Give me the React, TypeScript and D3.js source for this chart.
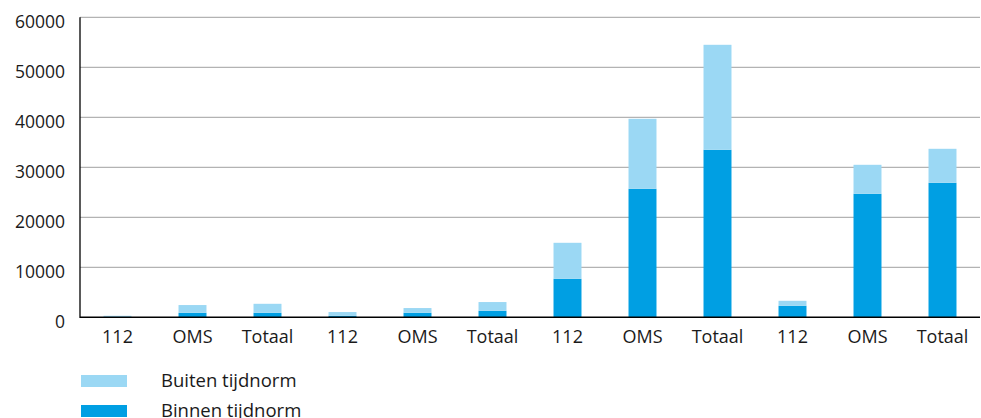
import React, { useEffect, useRef } from 'react';
import * as d3 from 'd3';

const categories = ['112', 'OMS', 'Totaal', '112', 'OMS', 'Totaal', '112', 'OMS', 'Totaal', '112', 'OMS', 'Totaal'];
const binnen = [0, 900, 900, 300, 900, 1300, 7700, 25700, 33500, 2300, 24700, 26900];
const buiten = [300, 1550, 1800, 750, 950, 1750, 7200, 14000, 21000, 1000, 5800, 6800];
const yTicks = [0, 10000, 20000, 30000, 40000, 50000, 60000];
const seriesNames = ['Buiten tijdnorm', 'Binnen tijdnorm'];

const LIGHT = '#9bd8f4';
const DARK = '#009fe3';
const FONT = '"Open Sans", "DejaVu Sans", sans-serif';

const App: React.FC = () => {
  const svgRef = useRef<SVGSVGElement>(null);

  useEffect(() => {
    if (!svgRef.current) return;
    const svg = d3.select(svgRef.current);
    svg.selectAll('*').remove();

    const left = 80, right = 980, top = 17.3, bottom = 317.3;

    const x = d3.scaleBand<number>()
      .domain(categories.map((_, i) => i))
      .range([left, right])
      .paddingInner(0.627)
      .paddingOuter(0.3135);

    const y = d3.scaleLinear().domain([0, 60000]).range([bottom, top]);

    // grid
    svg.append('g')
      .selectAll('line')
      .data(yTicks.filter(t => t > 0))
      .enter()
      .append('line')
      .attr('x1', left)
      .attr('x2', right)
      .attr('y1', d => y(d))
      .attr('y2', d => y(d))
      .attr('stroke', '#a0a0a0')
      .attr('stroke-width', 1);

    // stacked bars
    const rows = categories.map((c, i) => ({ i, binnen: binnen[i], buiten: buiten[i] }));
    const stack = d3.stack<any>().keys(['binnen', 'buiten'])(rows);
    const colors: Record<string, string> = { binnen: DARK, buiten: LIGHT };

    stack.forEach(layer => {
      svg.append('g')
        .selectAll('rect')
        .data(layer)
        .enter()
        .append('rect')
        .attr('x', d => x(d.data.i)!)
        .attr('width', x.bandwidth())
        .attr('y', d => y(d[1]))
        .attr('height', d => Math.max(0, y(d[0]) - y(d[1])))
        .attr('fill', colors[layer.key]);
    });

    // axes
    svg.append('line')
      .attr('x1', left).attr('x2', left)
      .attr('y1', top).attr('y2', bottom + 0.7)
      .attr('stroke', '#000').attr('stroke-width', 1.3);
    svg.append('line')
      .attr('x1', left).attr('x2', right)
      .attr('y1', bottom).attr('y2', bottom)
      .attr('stroke', '#000').attr('stroke-width', 1.5);

    // y labels
    svg.append('g')
      .selectAll('text')
      .data(yTicks)
      .enter()
      .append('text')
      .attr('x', 65)
      .attr('y', d => y(d) + 5)
      .attr('dy', '0.35em')
      .attr('text-anchor', 'end')
      .attr('font-family', FONT)
      .attr('font-size', 17.5)
      .attr('fill', '#1a1a1a')
      .text(d => String(d));

    // x labels
    svg.append('g')
      .selectAll('text')
      .data(categories)
      .enter()
      .append('text')
      .attr('x', (_, i) => x(i)! + x.bandwidth() / 2)
      .attr('y', 337)
      .attr('dy', '0.35em')
      .attr('text-anchor', 'middle')
      .attr('font-family', FONT)
      .attr('font-size', 18)
      .attr('fill', '#1a1a1a')
      .text(d => d);

    // legend
    const legend = svg.append('g');
    seriesNames.forEach((name, k) => {
      const yy = 375 + k * 30;
      legend.append('rect')
        .attr('x', 81).attr('y', yy)
        .attr('width', 46).attr('height', 12)
        .attr('fill', k === 0 ? LIGHT : DARK);
      legend.append('text')
        .attr('x', 161).attr('y', yy + 12)
        .attr('font-family', FONT)
        .attr('font-size', 18.5)
        .attr('fill', '#1a1a1a')
        .text(name);
    });
  }, []);

  return (
    <svg
      ref={svgRef}
      width={981}
      height={418}
      style={{ position: 'absolute', left: 0, top: 0, background: '#fff' }}
    />
  );
};

export default App;
